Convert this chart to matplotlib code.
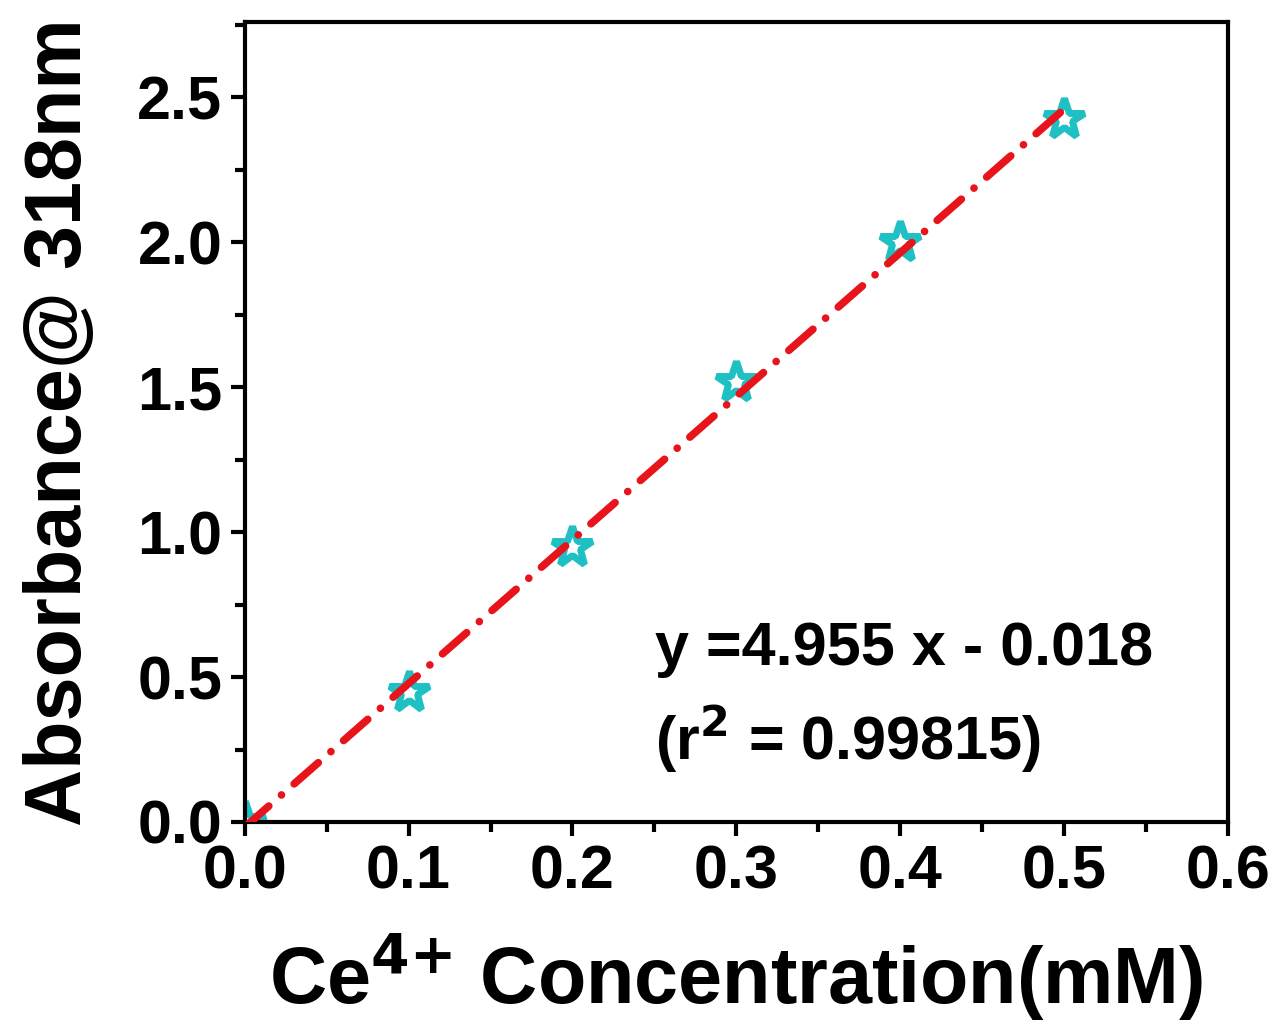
import numpy as np
import matplotlib.pyplot as plt
from matplotlib.ticker import MultipleLocator

plt.rcParams['font.family'] = ['Liberation Sans', 'DejaVu Sans']
plt.rcParams['font.weight'] = 'bold'

# data
conc = [0.0, 0.1, 0.2, 0.3, 0.4, 0.5]
absorb = [0.0, 0.449, 0.95, 1.519, 2.0, 2.424]
slope = 4.955
intercept = -0.018
fit_x = [0.0, 0.5]

fig = plt.figure(figsize=(12.81, 10.32), dpi=100)
ax = fig.add_axes([0.191, 0.2035, 0.7677, 0.7752])

fx = np.array(fit_x)
ax.plot(fx, slope * fx + intercept, color='#e8141c', linewidth=5.5,
        linestyle=(0, (4.2, 2.2, 0.01, 2.2)), dash_capstyle='round', zorder=3)
ax.plot(conc, absorb, linestyle='none', marker='*', markersize=30,
        markerfacecolor='none', markeredgecolor='#1fc0c4', markeredgewidth=5,
        zorder=2)

ax.set_xlim(0, 0.6)
ax.set_ylim(0, 2.76)
ax.xaxis.set_major_locator(MultipleLocator(0.1))
ax.xaxis.set_minor_locator(MultipleLocator(0.05))
ax.yaxis.set_major_locator(MultipleLocator(0.5))
ax.yaxis.set_minor_locator(MultipleLocator(0.25))
ax.xaxis.set_major_formatter(plt.FormatStrFormatter('%.1f'))
ax.yaxis.set_major_formatter(plt.FormatStrFormatter('%.1f'))

for s in ax.spines.values():
    s.set_linewidth(3)
ax.tick_params(which='major', direction='out', length=10, width=3,
               labelsize=44, pad=6, top=False, right=False)
ax.tick_params(which='minor', direction='out', length=7, width=3,
               top=False, right=False)

ax.set_xlabel('Ce$^{\\mathbf{4{+}}}$ Concentration(mM)', fontsize=57,
              fontweight='bold', labelpad=22)
ax.set_ylabel('Absorbance@ 318nm', fontsize=57, fontweight='bold', labelpad=28)

ax.text(0.417, 0.196, 'y =4.955 x - 0.018', fontsize=44, fontweight='bold',
        va='baseline', transform=ax.transAxes)
ax.text(0.417, 0.078, '(r$^{\\mathbf{2}}$ = 0.99815)', fontsize=44, fontweight='bold',
        va='baseline', transform=ax.transAxes)

plt.savefig('out.png', dpi=100)
